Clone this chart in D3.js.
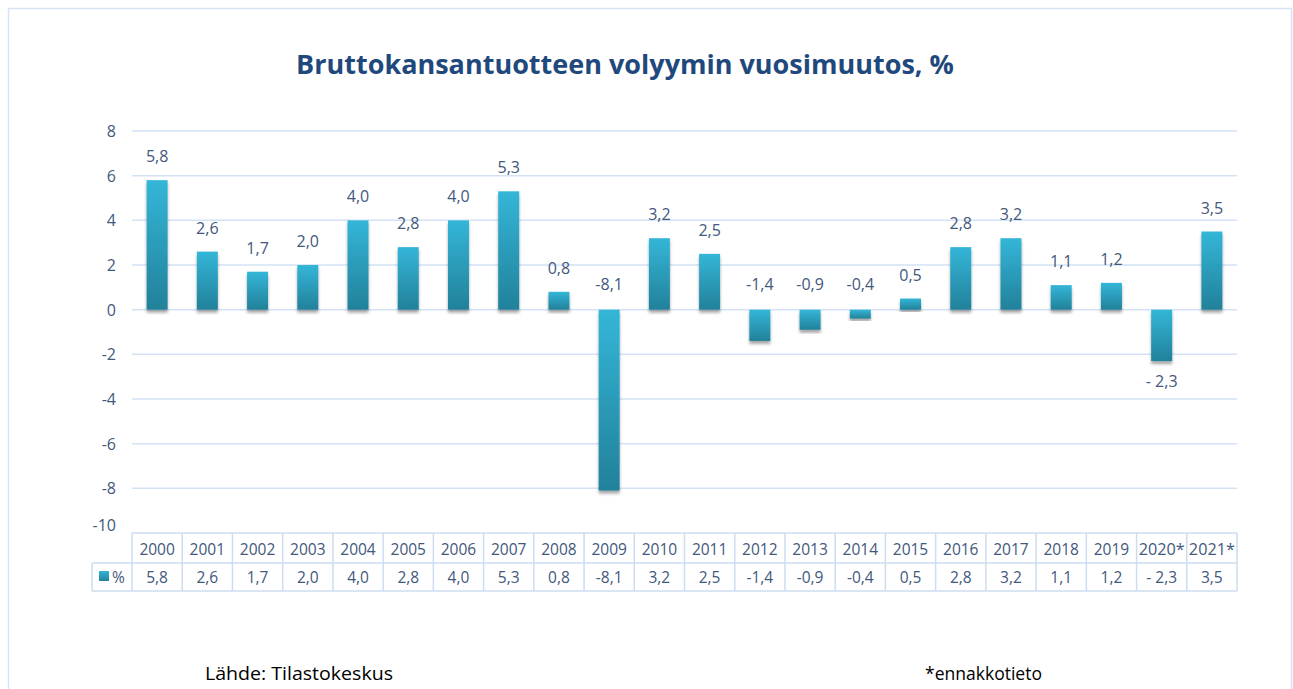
<!DOCTYPE html>
<html lang="fi">
  <head>
    <meta charset="utf-8">
    <title>Bruttokansantuotteen volyymin vuosimuutos</title>
    <style>
      body { margin: 0; background: #fff; }
      svg { display: block; }
    </style>
  </head>
  <body>
    <div id="chart-area"></div>
    <script src="https://cdn.jsdelivr.net/npm/d3@7/dist/d3.min.js"></script>
    <script>
      // data
      const years = ['2000','2001','2002','2003','2004','2005','2006','2007','2008','2009','2010',
        '2011','2012','2013','2014','2015','2016','2017','2018','2019','2020*','2021*'];
      const values = [5.8, 2.6, 1.7, 2.0, 4.0, 2.8, 4.0, 5.3, 0.8, -8.1, 3.2,
        2.5, -1.4, -0.9, -0.4, 0.5, 2.8, 3.2, 1.1, 1.2, -2.3, 3.5];
      const valueLabels = ['5,8','2,6','1,7','2,0','4,0','2,8','4,0','5,3','0,8','-8,1','3,2',
        '2,5','-1,4','-0,9','-0,4','0,5','2,8','3,2','1,1','1,2','- 2,3','3,5'];
      const yTicks = [8, 6, 4, 2, 0, -2, -4, -6, -8, -10];

      const svg_width = 1293;
      const svg_height = 689;
      const plot_left = 132, plot_right = 1237, plot_top = 131, plot_bottom = 533;
      const txt = '#42587c';
      const font = "'Open Sans', sans-serif";

      const x_scale = d3.scaleBand().domain(years).range([plot_left, plot_right]).paddingInner(0);
      const y_scale = d3.scaleLinear().domain([-10, 8]).range([plot_bottom, plot_top]);

      const svg = d3.select('#chart-area').append('svg')
        .attr('width', svg_width).attr('height', svg_height);

      const defs = svg.append('defs');
      const grad = defs.append('linearGradient').attr('id', 'barGrad')
        .attr('x1', 0).attr('y1', 0).attr('x2', 0).attr('y2', 1);
      grad.append('stop').attr('offset', '0%').attr('stop-color', '#34b6d8');
      grad.append('stop').attr('offset', '100%').attr('stop-color', '#22819a');
      const shadow = defs.append('filter').attr('id', 'shadow')
        .attr('x', '-30%').attr('y', '-10%').attr('width', '160%').attr('height', '130%');
      shadow.append('feDropShadow').attr('dx', 0).attr('dy', 3).attr('stdDeviation', 1.6)
        .attr('flood-color', '#000').attr('flood-opacity', 0.35);

      // outer frame
      svg.append('rect').attr('x', 8.5).attr('y', 8.5).attr('width', 1283).attr('height', 700)
        .attr('fill', 'none').attr('stroke', '#d6e3f3').attr('stroke-width', 1.5);

      // title
      svg.append('text').attr('x', 625).attr('y', 74).attr('text-anchor', 'middle')
        .attr('font-family', font).attr('font-weight', 'bold').attr('font-size', 27)
        .attr('fill', '#1f497d').text('Bruttokansantuotteen volyymin vuosimuutos, %');

      // gridlines
      svg.append('g').selectAll('line').data(yTicks.filter(d => d > -10)).enter().append('line')
        .attr('x1', plot_left).attr('x2', plot_right)
        .attr('y1', d => y_scale(d)).attr('y2', d => y_scale(d))
        .attr('stroke', '#d3e2f4').attr('stroke-width', 1.5);

      // y labels
      svg.append('g').selectAll('text').data(yTicks).enter().append('text')
        .attr('x', 116).attr('y', d => y_scale(d) + (d === -10 ? -2 : 6))
        .attr('text-anchor', 'end')
        .attr('font-family', font).attr('font-size', 16).attr('fill', txt)
        .text(d => d);

      // bars
      const bw = 21;
      svg.append('g').selectAll('rect').data(values).enter().append('rect')
        .attr('x', (d, i) => x_scale(years[i]) + x_scale.bandwidth() / 2 - bw / 2)
        .attr('y', d => y_scale(Math.max(d, 0)))
        .attr('width', bw)
        .attr('height', d => Math.abs(y_scale(d) - y_scale(0)))
        .attr('fill', 'url(#barGrad)')
        .attr('filter', 'url(#shadow)');

      // data labels
      svg.append('g').selectAll('text').data(values).enter().append('text')
        .attr('x', (d, i) => x_scale(years[i]) + x_scale.bandwidth() / 2)
        .attr('y', (d, i) => {
          if (d >= 0) return y_scale(d) - 18;
          if (years[i] === '2020*') return y_scale(d) + 26;
          return y_scale(0) - 20;
        })
        .attr('text-anchor', 'middle')
        .attr('font-family', font).attr('font-size', 16).attr('fill', txt)
        .text((d, i) => valueLabels[i]);

      // data table
      const rowTop = 533, rowMid = 563, rowBot = 591;
      const tbl = svg.append('g');
      const border = '#cddcf0';
      tbl.append('line').attr('x1', plot_left).attr('x2', plot_right).attr('y1', rowTop).attr('y2', rowTop)
        .attr('stroke', border).attr('stroke-width', 1.5);
      tbl.append('line').attr('x1', 92).attr('x2', plot_right).attr('y1', rowMid).attr('y2', rowMid)
        .attr('stroke', border).attr('stroke-width', 1.5);
      tbl.append('line').attr('x1', 92).attr('x2', plot_right).attr('y1', rowBot).attr('y2', rowBot)
        .attr('stroke', border).attr('stroke-width', 1.5);
      tbl.append('line').attr('x1', 92).attr('x2', 92).attr('y1', rowMid).attr('y2', rowBot)
        .attr('stroke', border).attr('stroke-width', 1.5);
      tbl.selectAll('.vl').data(years.concat(['end'])).enter().append('line')
        .attr('x1', (d, i) => plot_left + i * x_scale.bandwidth())
        .attr('x2', (d, i) => plot_left + i * x_scale.bandwidth())
        .attr('y1', rowTop).attr('y2', rowBot)
        .attr('stroke', border).attr('stroke-width', 1.5);
      tbl.selectAll('.yr').data(years).enter().append('text')
        .attr('x', d => x_scale(d) + x_scale.bandwidth() / 2).attr('y', 555)
        .attr('text-anchor', 'middle')
        .attr('font-family', font).attr('font-size', 15.5).attr('fill', txt)
        .attr('textLength', d => d.length > 4 ? 46 : null)
        .attr('lengthAdjust', 'spacingAndGlyphs')
        .text(d => d);
      tbl.selectAll('.vv').data(valueLabels).enter().append('text')
        .attr('x', (d, i) => x_scale(years[i]) + x_scale.bandwidth() / 2).attr('y', 583)
        .attr('text-anchor', 'middle')
        .attr('font-family', font).attr('font-size', 15.5).attr('fill', txt)
        .text(d => d);
      // legend key
      tbl.append('rect').attr('x', 99).attr('y', 571).attr('width', 10).attr('height', 10)
        .attr('fill', 'url(#barGrad)');
      tbl.append('text').attr('x', 112).attr('y', 583)
        .attr('font-family', font).attr('font-size', 15.5).attr('fill', txt).text('%');

      // footer
      svg.append('text').attr('x', 205).attr('y', 680)
        .attr('font-family', font).attr('font-size', 18).attr('fill', '#000')
        .attr('textLength', 188).attr('lengthAdjust', 'spacingAndGlyphs')
        .text('Lähde: Tilastokeskus');
      svg.append('text').attr('x', 925).attr('y', 680)
        .attr('font-family', font).attr('font-size', 18).attr('fill', '#000')
        .attr('textLength', 117).attr('lengthAdjust', 'spacingAndGlyphs')
        .text('*ennakkotieto');
    </script>
  </body>
</html>
